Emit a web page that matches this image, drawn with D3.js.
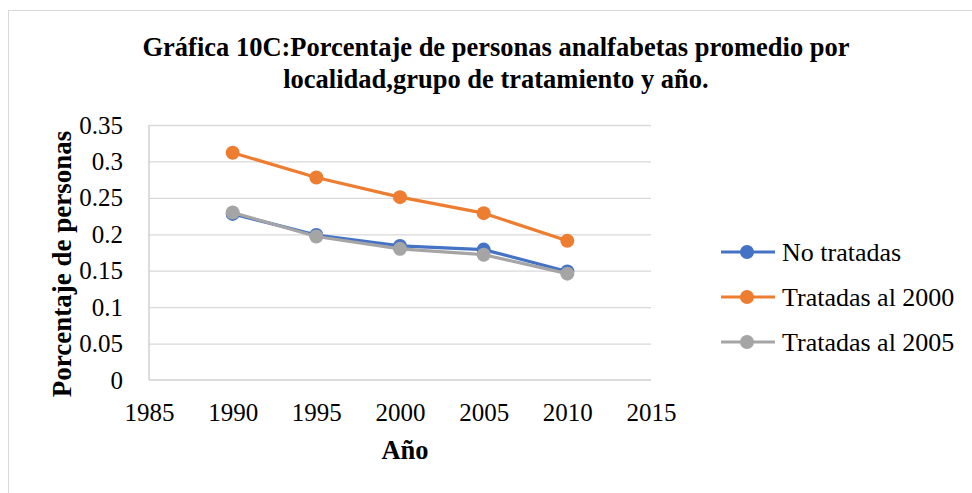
<!DOCTYPE html>
<html>
<head>
<meta charset="utf-8">
<script src="https://cdn.jsdelivr.net/npm/d3@7"></script>
<style>
  body { margin: 0; background: #fff; }
  svg { display: block; font-family: "Liberation Serif", "Times New Roman", serif; }
</style>
</head>
<body>
<svg id="chart" width="972" height="493"></svg>
<script>
// Data
const years = [1990, 1995, 2000, 2005, 2010];
const noTratadas = [0.228, 0.199, 0.184, 0.179, 0.149];
const tratadas2000 = [0.312, 0.278, 0.251, 0.229, 0.191];
const tratadas2005 = [0.230, 0.197, 0.180, 0.172, 0.146];
const xTicks = [1985, 1990, 1995, 2000, 2005, 2010, 2015];
const yTicks = [0, 0.05, 0.1, 0.15, 0.2, 0.25, 0.3, 0.35];

const series = [
  { name: "No tratadas", values: noTratadas, color: "#4472C4" },
  { name: "Tratadas al 2000", values: tratadas2000, color: "#ED7D31" },
  { name: "Tratadas al 2005", values: tratadas2005, color: "#A5A5A5" }
];

const svg = d3.select("#chart");
const plotLeft = 149, plotRight = 651, plotTop = 125, plotBottom = 380;
const serif = "Liberation Serif, Times New Roman, serif";

const x = d3.scaleLinear().domain([1985, 2015]).range([plotLeft, plotRight]);
const y = d3.scaleLinear().domain([0, 0.35]).range([plotBottom, plotTop]);

// Outer chart border
svg.append("rect")
  .attr("x", 8.5).attr("y", 10.5)
  .attr("width", 980).attr("height", 500)
  .attr("fill", "none")
  .attr("stroke", "#d9d9d9");

// Title
const title = svg.append("text")
  .attr("text-anchor", "middle")
  .attr("font-weight", "bold")
  .attr("font-size", 26.5);
title.append("tspan").attr("x", 496).attr("y", 56)
  .text("Gráfica 10C:Porcentaje de personas analfabetas promedio por");
title.append("tspan").attr("x", 496).attr("y", 88)
  .text("localidad,grupo de tratamiento y año.");

// Gridlines
svg.append("g")
  .selectAll("line")
  .data(yTicks.slice(1))
  .join("line")
  .attr("x1", plotLeft).attr("x2", plotRight)
  .attr("y1", d => y(d) + 0.5).attr("y2", d => y(d) + 0.5)
  .attr("stroke", "#d9d9d9")
  .attr("stroke-width", 1.3);

// Axis lines
svg.append("line")
  .attr("x1", plotLeft).attr("x2", plotRight)
  .attr("y1", plotBottom).attr("y2", plotBottom)
  .attr("stroke", "#d0d0d0").attr("stroke-width", 1.5);
svg.append("line")
  .attr("x1", plotLeft).attr("x2", plotLeft)
  .attr("y1", plotTop).attr("y2", plotBottom)
  .attr("stroke", "#d0d0d0").attr("stroke-width", 1.5);

// Y axis
const yAxis = d3.axisLeft(y).tickValues(yTicks).tickSize(0).tickPadding(26)
  .tickFormat(d => String(+d.toFixed(2)));
svg.append("g")
  .attr("transform", `translate(${plotLeft},0)`)
  .call(yAxis)
  .call(g => g.select(".domain").remove())
  .selectAll("text")
  .attr("font-family", serif)
  .attr("font-size", 25)
  .attr("fill", "#000");

// X axis
const xAxis = d3.axisBottom(x).tickValues(xTicks).tickSize(0).tickPadding(23)
  .tickFormat(d3.format("d"));
svg.append("g")
  .attr("transform", `translate(0,${plotBottom})`)
  .call(xAxis)
  .call(g => g.select(".domain").remove())
  .selectAll("text")
  .attr("font-family", serif)
  .attr("font-size", 25)
  .attr("fill", "#000");

// Axis titles
svg.append("text")
  .attr("x", (plotLeft + plotRight) / 2 + 5).attr("y", 459)
  .attr("text-anchor", "middle")
  .attr("font-weight", "bold")
  .attr("font-size", 26.5)
  .text("Año");

svg.append("text")
  .attr("transform", "translate(71,264) rotate(-90)")
  .attr("text-anchor", "middle")
  .attr("font-weight", "bold")
  .attr("font-size", 27)
  .text("Porcentaje de personas");

// Lines and markers
const line = d3.line()
  .x((d, i) => x(years[i]))
  .y(d => y(d));

series.forEach(s => {
  const g = svg.append("g");
  g.append("path")
    .datum(s.values)
    .attr("d", line)
    .attr("fill", "none")
    .attr("stroke", s.color)
    .attr("stroke-width", 3.2)
    .attr("stroke-linejoin", "round");
  g.selectAll("circle")
    .data(s.values)
    .join("circle")
    .attr("cx", (d, i) => x(years[i]))
    .attr("cy", d => y(d))
    .attr("r", 7)
    .attr("fill", s.color);
});

// Legend
const legend = svg.append("g");
series.forEach((s, i) => {
  const ly = 252 + i * 45;
  legend.append("line")
    .attr("x1", 721).attr("x2", 775)
    .attr("y1", ly).attr("y2", ly)
    .attr("stroke", s.color).attr("stroke-width", 3.2);
  legend.append("circle")
    .attr("cx", 747).attr("cy", ly).attr("r", 7)
    .attr("fill", s.color);
  legend.append("text")
    .attr("x", 782).attr("y", ly + 9)
    .attr("font-size", 26)
    .text(s.name);
});
</script>
</body>
</html>
